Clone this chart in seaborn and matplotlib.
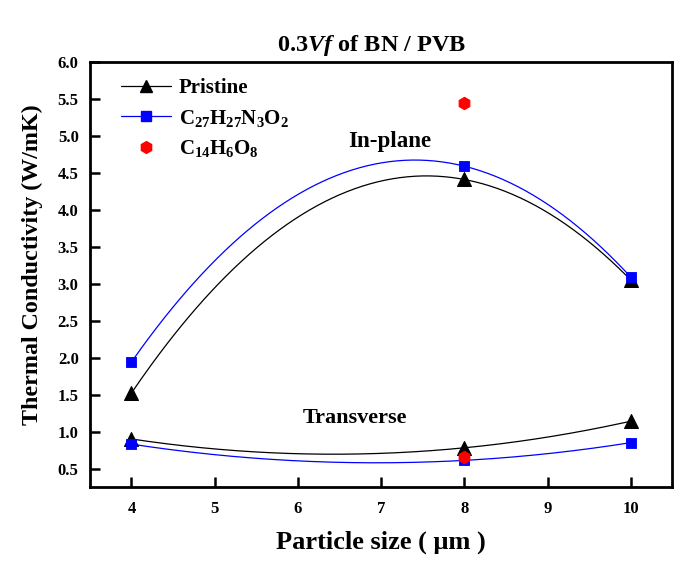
import matplotlib
matplotlib.use('Agg')
import matplotlib.pyplot as plt
import numpy as np
import seaborn as sns
from matplotlib.lines import Line2D

sns.set_style('ticks')
plt.rcParams['font.family'] = ['Liberation Serif', 'DejaVu Serif']
plt.rcParams['font.weight'] = 'bold'
plt.rcParams['text.color'] = 'black'
plt.rcParams['axes.labelcolor'] = 'black'
plt.rcParams['xtick.color'] = 'black'
plt.rcParams['ytick.color'] = 'black'
plt.rcParams['axes.edgecolor'] = 'black'
plt.rcParams['mathtext.fontset'] = 'custom'
plt.rcParams['mathtext.rm'] = 'Liberation Serif:bold'
plt.rcParams['mathtext.it'] = 'Liberation Serif:italic:bold'
plt.rcParams['mathtext.bf'] = 'Liberation Serif:bold'

# 数据
size = [4, 8, 10]
pristine_in = [1.52, 4.41, 3.05]
c27_in = [1.94, 4.59, 3.09]
pristine_tr = [0.90, 0.78, 1.14]
c27_tr = [0.83, 0.61, 0.85]
c14_x = [8, 8]
c14_y = [5.44, 0.66]

fig = plt.figure(figsize=(6.96, 5.63), dpi=100)
ax = fig.add_axes([0.129, 0.135, 0.837, 0.755])

# 平滑曲线（过三点的二次曲线）
xs = np.linspace(4, 10, 200)
for ys, c in [(pristine_in, 'black'), (c27_in, 'blue'),
              (pristine_tr, 'black'), (c27_tr, 'blue')]:
    coef = np.polyfit(size, ys, 2)
    sns.lineplot(x=xs, y=np.polyval(coef, xs), color=c, lw=0.9, ax=ax)

for ys in [pristine_in, pristine_tr]:
    sns.scatterplot(x=size, y=ys, marker='^', s=100, color='black', edgecolor='black', ax=ax, zorder=5)
for ys in [c27_in, c27_tr]:
    sns.scatterplot(x=size, y=ys, marker='s', s=60, color='blue', edgecolor='blue', ax=ax, zorder=5)
sns.scatterplot(x=c14_x, y=c14_y, marker='h', s=80, color='red', edgecolor='red', ax=ax, zorder=6)

ax.set_xlim(3.5, 10.5)
ax.set_ylim(0.25, 6.0)
ax.set_xticks(range(4, 11))
yt = np.arange(0.5, 6.01, 0.5)
ax.set_yticks(yt)
ax.set_yticklabels(['%.1f' % v for v in yt])
ax.tick_params(direction='in', length=7, width=1.8, labelsize=12)
ax.tick_params(axis='x', pad=10)
ax.tick_params(axis='y', pad=8)
for sp in ax.spines.values():
    sp.set_linewidth(2)
for lab in ax.get_xticklabels() + ax.get_yticklabels():
    lab.set_fontweight('bold')

ax.set_xlabel('Particle size ( μm )', fontsize=19, fontweight='bold', labelpad=10)
ax.set_ylabel('Thermal Conductivity (W/mK)', fontsize=17.3, fontweight='bold')
ax.yaxis.set_label_coords(-0.081, 0.522)
ax.set_title(r'0.3$Vf$ of BN / PVB', fontsize=17.5, fontweight='bold', pad=8, x=0.483)

ax.text(7.11, 4.92, 'In-plane', fontsize=16.5, fontweight='bold', ha='center', va='center')
ax.text(6.69, 1.19, 'Transverse', fontsize=16, fontweight='bold', ha='center', va='center')

handles = [
    Line2D([], [], color='black', lw=0.9, marker='^', ms=9),
    Line2D([], [], color='blue', lw=0.9, marker='s', ms=7),
    Line2D([], [], color='red', lw=0, marker='h', ms=8.5),
]
labels = ['Pristine', r'C$_{27}$H$_{27}$N$_{3}$O$_{2}$', r'C$_{14}$H$_{6}$O$_{8}$']
ax.legend(handles, labels, loc='upper left', frameon=False,
          prop={'weight': 'bold', 'size': 15}, handlelength=2.4,
          bbox_to_anchor=(0.021, 1.006), labelspacing=0.45, handletextpad=0.4)

fig.savefig('out.png', dpi=100)
